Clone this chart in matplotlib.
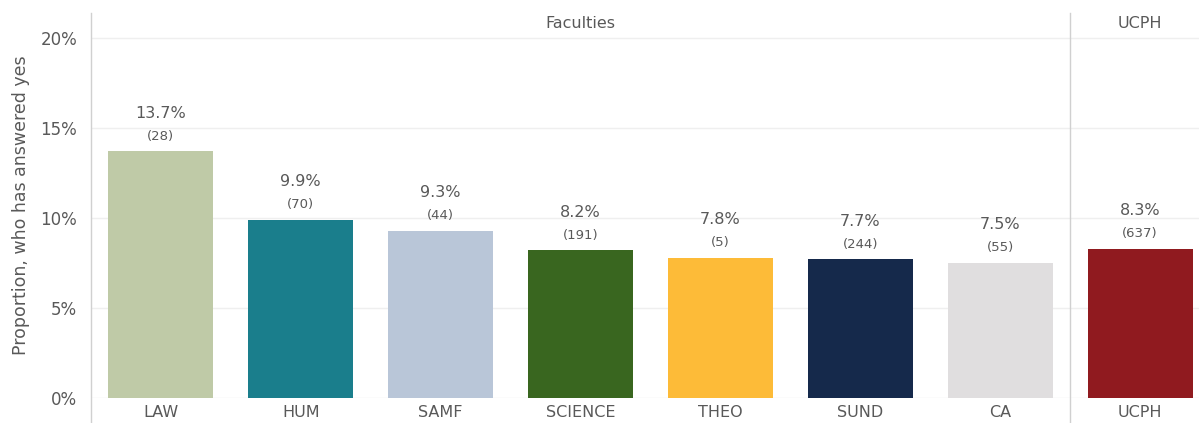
import matplotlib.pyplot as plt
from matplotlib.lines import Line2D

faculties = ["LAW", "HUM", "SAMF", "SCIENCE", "THEO", "SUND", "CA"]
fac_pct = [13.7, 9.9, 9.3, 8.2, 7.8, 7.7, 7.5]
fac_n = [28, 70, 44, 191, 5, 244, 55]
fac_colors = ["#BFCAA7", "#1A7E8C", "#B9C6D8", "#39661F", "#FDBB38", "#15294B", "#E0DEDF"]

total_label = ["UCPH"]
total_pct = [8.3]
total_n = [637]
total_colors = ["#901A1F"]

TEXT = "#595959"
GRID = "#EFEFEF"
LINE = "#D0D0D0"

W, H = 1199, 423
fig = plt.figure(figsize=(W / 100, H / 100), dpi=100)

bottom = (H - 398) / H
height = (398 - 13) / H
ax1 = fig.add_axes([91 / W, bottom, (1070 - 91) / W, height])
ax2 = fig.add_axes([1070 / W, bottom, (1199 - 1070) / W, height])

ymax = 385 / 18.0  # 18 px per percent


def draw_panel(ax, labels, pct, ns, colors, header, xlim, header_x):
    x = range(len(labels))
    ax.bar(x, pct, width=0.75, color=colors, zorder=2)
    for xi, p, n in zip(x, pct, ns):
        ax.annotate(f"{p:.1f}%", (xi, p), xytext=(0, 27.5), textcoords="offset points",
                    ha="center", va="center", fontsize=11.5, color=TEXT)
        ax.annotate(f"({n})", (xi, p), xytext=(0, 11), textcoords="offset points",
                    ha="center", va="center", fontsize=9.5, color=TEXT)
    ax.set_xlim(*xlim)
    ax.set_ylim(0, ymax)
    ax.set_yticks([0, 5, 10, 15, 20])
    ax.yaxis.grid(True, color=GRID, linewidth=1, zorder=0)
    ax.set_xticks(list(x))
    ax.set_xticklabels(labels, fontsize=11.5, color=TEXT)
    ax.tick_params(axis="x", length=0, pad=5)
    for s in ax.spines.values():
        s.set_visible(False)
    ax.text(header_x, 1 - 11 / 385, header, transform=ax.transAxes,
            ha="center", va="center", fontsize=11.5, color=TEXT)


draw_panel(ax1, faculties, fac_pct, fac_n, fac_colors, "Faculties", (-0.5, 6.5), 0.5)
draw_panel(ax2, total_label, total_pct, total_n, total_colors, "UCPH", (-0.5, 0.42), 0.54)

ax1.set_yticklabels(["0%", "5%", "10%", "15%", "20%"], fontsize=12, color=TEXT)
ax1.tick_params(axis="y", length=0, pad=10)
ax2.tick_params(axis="y", length=0, labelleft=False)

fig.text(21 / W, 1 - 205 / H, "Proportion, who has answered yes", rotation=90,
         ha="center", va="center", fontsize=12.5, color=TEXT)

# panel separators
for xp in (91, 1070):
    fig.add_artist(Line2D([xp / W, xp / W], [0, 1 - 13 / H], color=LINE, linewidth=1))

fig.savefig("out.png", dpi=100, facecolor="white")
